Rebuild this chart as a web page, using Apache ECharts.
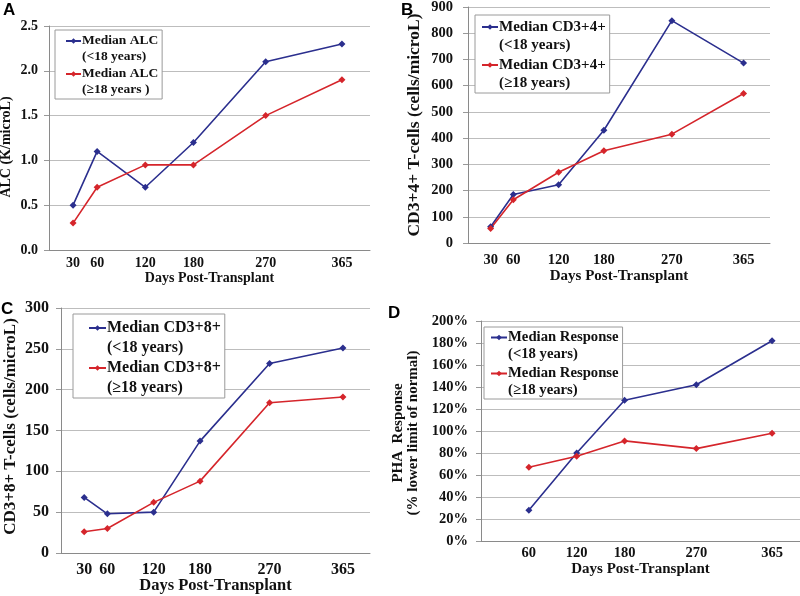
<!DOCTYPE html>
<html>
<head>
<meta charset="utf-8">
<script src="https://cdn.jsdelivr.net/npm/echarts@6/dist/echarts.min.js"></script>
<style>html,body{margin:0;padding:0;background:#fff;}#c{width:800px;height:596px;}</style>
</head>
<body>
<div id="c"></div>
<script>
// ---- data ----
var daysABC = [30, 60, 120, 180, 270, 365];
var daysD = [60, 120, 180, 270, 365];
var xTickLabelsABC = [30, 60, 120, 180, 270, 365];
var xTickLabelsD = [60, 120, 180, 270, 365];

var alcUnder18 = [0.5, 1.1, 0.7, 1.2, 2.1, 2.3];
var alcOver18 = [0.3, 0.7, 0.95, 0.95, 1.5, 1.9];

var cd4Under18 = [62, 185, 222, 430, 848, 686];
var cd4Over18 = [55, 165, 270, 352, 415, 570];

var cd8Under18 = [68, 48, 50, 137, 232, 251];
var cd8Over18 = [26, 30, 62, 88, 184, 191];

var phaUnder18 = [28, 80, 128, 142, 182];
var phaOver18 = [67, 77, 91, 84, 98];

var panelLetters = ['A', 'B', 'C', 'D'];
var xTitle = 'Days Post-Transplant';
var yTitles = ['ALC (K/microL)', 'CD3+4+ T-cells (cells/microL)', 'CD3+8+ T-cells (cells/microL)', 'PHA  Response\n(% lower limit of normal)'];
var legendNames = [
  ['Median ALC\n(<18 years)', 'Median ALC\n(\u226518 years )'],
  ['Median CD3+4+\n(<18 years)', 'Median CD3+4+\n(\u226518 years)'],
  ['Median CD3+8+\n(<18 years)', 'Median CD3+8+\n(\u226518 years)'],
  ['Median Response\n(<18 years)', 'Median Response\n(\u226518 years)']
];

// ---- styling ----
var BLUE = '#2B2F8E';
var RED = '#D5252B';
var SERIF = '"Liberation Serif", "Times New Roman", serif';
var SANS = '"Liberation Sans", Arial, sans-serif';

function zip(xs, ys) { return xs.map(function (x, i) { return [x, ys[i]]; }); }

var grids = [
  { left: 49, top: 26, width: 321, height: 224 },
  { left: 468, top: 7, width: 302, height: 236 },
  { left: 61, top: 308, width: 309, height: 245 },
  { left: 481, top: 321, width: 319, height: 220 }
];
var fs = [14, 14.5, 16, 14.5];
var yCfg = [
  { max: 2.5, interval: 0.5, fmt: function (v) { return v.toFixed(1); }, margin: 11, nameGap: 35, nameSize: 14, namePad: [0, 18, 0, 0] },
  { max: 900, interval: 100, fmt: function (v) { return String(v); }, margin: 15, nameGap: 46, nameSize: 17.5, namePad: [0, 0, 0, 0] },
  { max: 300, interval: 50, fmt: function (v) { return String(v); }, margin: 12, nameGap: 43, nameSize: 17, namePad: [0, 0, 0, 8] },
  { max: 200, interval: 20, fmt: function (v) { return v + '%'; }, margin: 13, nameGap: 60, nameSize: 15, namePad: [0, 4, 0, 0] }
];
var xCfg = [
  { margin: 6, nameGap: 21, nameSize: 14 },
  { margin: 10, nameGap: 26, nameSize: 15 },
  { margin: 9, nameGap: 24, nameSize: 16.5 },
  { margin: 5, nameGap: 21, nameSize: 15 }
];

var xAxes = [], yAxes = [], series = [], legends = [], titles = [];
var titlePos = [{ left: 3, top: 2 }, { left: 401, top: 2 }, { left: 1, top: 301 }, { left: 388, top: 305 }];
panelLetters.forEach(function (L, i) {
  titles.push({ text: L, left: titlePos[i].left, top: titlePos[i].top, padding: 0,
    textStyle: { fontFamily: SANS, fontWeight: 'bold', fontSize: 17, color: '#000' } });
});

for (var i = 0; i < 4; i++) {
  xAxes.push({
    gridIndex: i, type: 'value', min: 0, max: 400,
    name: xTitle, nameLocation: 'middle', nameGap: xCfg[i].nameGap, nameMoveOverlap: false,
    nameTextStyle: { fontFamily: SERIF, fontWeight: 'bold', fontSize: xCfg[i].nameSize, color: '#111' },
    axisLine: { show: true, lineStyle: { color: '#8a8a8a', width: 1 } },
    axisTick: { show: false },
    splitLine: { show: false },
    axisLabel: {
      customValues: i === 3 ? xTickLabelsD : xTickLabelsABC,
      margin: xCfg[i].margin,
      fontFamily: SERIF, fontWeight: 'bold', fontSize: fs[i], color: '#111'
    }
  });
  yAxes.push({
    gridIndex: i, type: 'value', min: 0, max: yCfg[i].max, interval: yCfg[i].interval,
    name: yTitles[i], nameLocation: 'middle', nameGap: yCfg[i].nameGap, nameRotate: 90, nameMoveOverlap: false,
    nameTextStyle: { fontFamily: SERIF, fontWeight: 'bold', fontSize: yCfg[i].nameSize, color: '#111', lineHeight: 15, align: 'center', padding: yCfg[i].namePad },
    axisLine: { show: true, lineStyle: { color: '#8a8a8a', width: 1 } },
    axisTick: { show: true, length: 5, lineStyle: { color: '#999' } },
    splitLine: { show: true, lineStyle: { color: '#bdbdbd', width: 1 } },
    axisLabel: { formatter: yCfg[i].fmt, margin: yCfg[i].margin,
      fontFamily: SERIF, fontWeight: 'bold', fontSize: fs[i], color: '#111' }
  });
}

var sets = [
  [daysABC, alcUnder18, alcOver18],
  [daysABC, cd4Under18, cd4Over18],
  [daysABC, cd8Under18, cd8Over18],
  [daysD, phaUnder18, phaOver18]
];
sets.forEach(function (s, i) {
  [s[1], s[2]].forEach(function (vals, k) {
    series.push({
      name: legendNames[i][k], type: 'line', xAxisIndex: i, yAxisIndex: i,
      data: zip(s[0], vals),
      symbol: 'diamond', symbolSize: 7,
      color: k === 0 ? BLUE : RED,
      itemStyle: { color: k === 0 ? BLUE : RED },
      lineStyle: { color: k === 0 ? BLUE : RED, width: 1.6 },
      animation: false
    });
  });
});

// legend boxes
var legCfg = [
  { left: 55, top: 30, lh: 16, gap: -15, pad: [3, 4, 1, 10], fontSize: 13.5, iw: 15 },
  { left: 475, top: 15, lh: 18, gap: -16, pad: [3, 4, 1, 6], fontSize: 15, iw: 16 },
  { left: 73, top: 314, lh: 20, gap: -20, pad: [4, 4, 0, 15], fontSize: 16, iw: 17 },
  { left: 484, top: 327, lh: 17, gap: -15, pad: [2, 4, 0, 6], fontSize: 14.7, iw: 16 }
];
legCfg.forEach(function (c, i) {
  legends.push({
    data: legendNames[i], orient: 'vertical', left: c.left, top: c.top,
    itemGap: c.gap, itemWidth: c.iw, itemHeight: 7,
    padding: [c.pad[0] - c.lh, c.pad[1], c.pad[2], c.pad[3]],
    borderColor: '#9a9a9a', borderWidth: 1, borderRadius: 0, backgroundColor: '#fff',
    selectedMode: false,
    formatter: function (name) { return '\n' + name; },
    textStyle: { fontFamily: SERIF, fontWeight: 'bold', fontSize: c.fontSize, lineHeight: c.lh, color: '#111', padding: [0, 0, 0, -4] }
  });
});

var chart = echarts.init(document.getElementById('c'), null, { renderer: 'canvas' });
chart.setOption({
  animation: false,
  backgroundColor: '#fff',
  title: titles,
  grid: grids.map(function (g) { return Object.assign({ outerBoundsMode: 'none', containLabel: false }, g); }),
  xAxis: xAxes,
  yAxis: yAxes,
  legend: legends,
  series: series
});
</script>
</body>
</html>
